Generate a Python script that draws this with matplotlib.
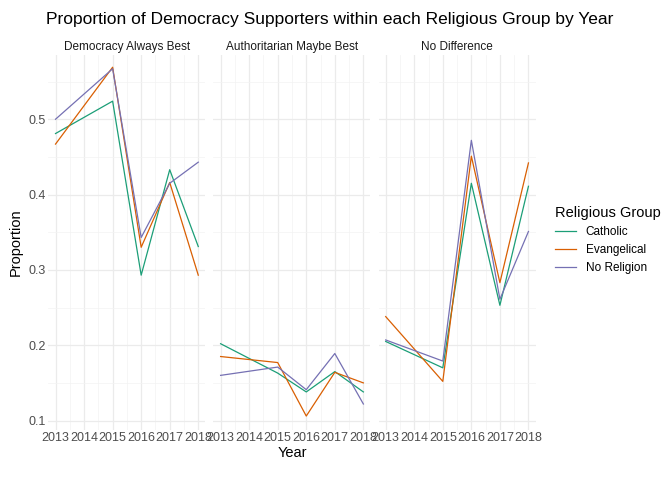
import numpy as np
import matplotlib
matplotlib.use("Agg")
import matplotlib.pyplot as plt

plt.rcParams['font.family'] = ['Liberation Sans', 'DejaVu Sans']

years = [2013, 2015, 2016, 2017, 2018]
panels = ["Democracy Always Best", "Authoritarian Maybe Best", "No Difference"]
groups = ["Catholic", "Evangelical", "No Religion"]
colors = ["#1B9E77", "#D95F02", "#7570B3"]

catholic = [[0.481, 0.524, 0.293, 0.433, 0.331],
            [0.202, 0.163, 0.138, 0.165, 0.138],
            [0.205, 0.170, 0.415, 0.253, 0.411]]
evangelical = [[0.467, 0.569, 0.330, 0.416, 0.293],
               [0.185, 0.177, 0.106, 0.164, 0.150],
               [0.238, 0.152, 0.451, 0.283, 0.442]]
no_religion = [[0.500, 0.567, 0.343, 0.415, 0.443],
               [0.160, 0.171, 0.141, 0.189, 0.122],
               [0.207, 0.179, 0.472, 0.261, 0.351]]
series = [catholic, evangelical, no_religion]

fig = plt.figure(figsize=(6.72, 4.8), dpi=100)
left, right, gap = 0.072, 0.797, 0.012
w = (right - left - 2 * gap) / 3
axes = []
for i, name in enumerate(panels):
    ax = fig.add_axes([left + i * (w + gap), 0.105, w, 0.78])
    axes.append(ax)
    for g, col, data in zip(groups, colors, series):
        ax.plot(years, data[i], color=col, lw=0.9, label=g)
    ax.set_xlim(2012.75, 2018.25)
    ax.set_ylim(0.088, 0.585)
    ax.set_xticks(range(2013, 2019))
    ax.set_xticks(np.arange(2013.5, 2018, 1), minor=True)
    ax.set_yticks([0.1, 0.2, 0.3, 0.4, 0.5])
    ax.set_yticks([0.15, 0.25, 0.35, 0.45, 0.55], minor=True)
    ax.grid(True, which="major", color="#EBEBEB", lw=0.9)
    ax.grid(True, which="minor", color="#F3F3F3", lw=0.5)
    ax.set_axisbelow(True)
    for s in ax.spines.values():
        s.set_visible(False)
    ax.tick_params(which="both", length=0, labelsize=9, colors="#4D4D4D", pad=2)
    ax.set_title(name, fontsize=8.5, color="#1A1A1A", pad=4)
    if i > 0:
        ax.set_yticklabels([])

axes[0].set_ylabel("Proportion", fontsize=10.5)
axes[1].set_xlabel("Year", fontsize=10.5, labelpad=1)
fig.suptitle("Proportion of Democracy Supporters within each Religious Group by Year",
             fontsize=12.5, x=0.491, y=0.975)
h, l = axes[0].get_legend_handles_labels()
leg = fig.legend(h, l, title="Religious Group", loc="center left",
                 bbox_to_anchor=(0.81, 0.5), frameon=False, fontsize=8.5,
                 title_fontsize=10.5, handlelength=1.8)
leg._legend_box.align = "left"
fig.savefig("out.png", dpi=100)
